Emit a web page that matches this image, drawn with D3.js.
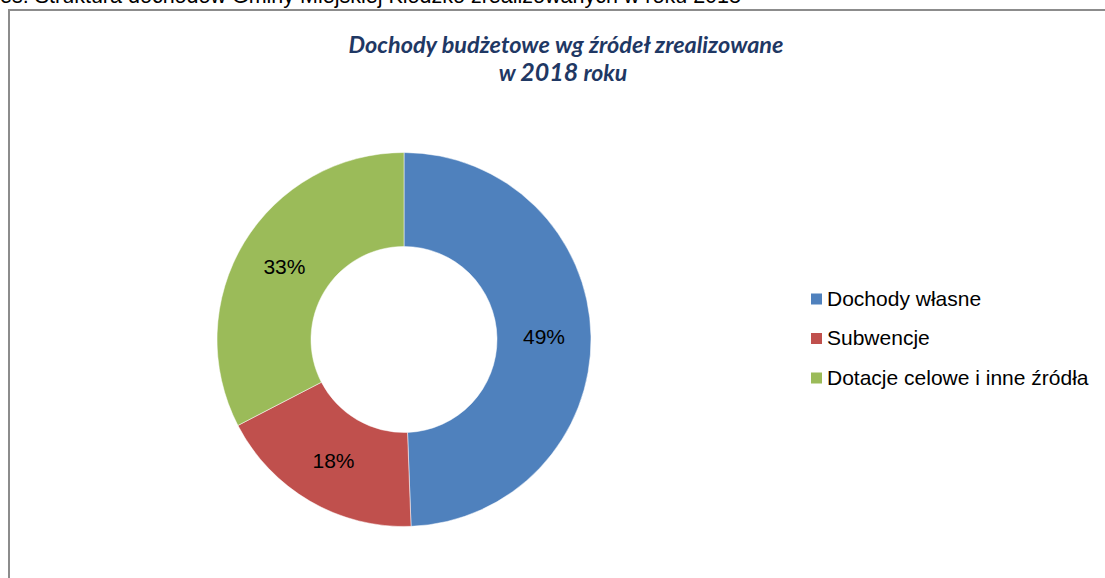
<!DOCTYPE html>
<html>
<head>
<meta charset="utf-8">
<script src="https://cdn.jsdelivr.net/npm/d3@7"></script>
<style>
  body { margin: 0; background: #fff; }
  svg { display: block; }
</style>
</head>
<body>
<svg width="1105" height="578"></svg>
<script>
// data
var categories = ["Dochody własne", "Subwencje", "Dotacje celowe i inne źródła"];
var values = [49.4, 18.0, 32.6];
var colors = ["#4f81bd", "#c0504d", "#9bbb59"];
var caption = "Wykres: Struktura dochodów Gminy Miejskiej Kłodzko zrealizowanych w roku 2018";
var titleLine1 = "Dochody budżetowe wg źródeł zrealizowane";

var svg = d3.select("svg"),
    width = +svg.attr("width"),
    height = +svg.attr("height");

// caption of the document, cut by the top edge like in the scan
svg.append("text")
    .attr("x", 741)
    .attr("y", 3)
    .attr("text-anchor", "end")
    .attr("font-family", "Liberation Sans, Arial, sans-serif")
    .attr("font-size", 21.5)
    .attr("fill", "#000")
    .text(caption);

// chart frame
svg.append("path")
    .attr("d", "M9," + (height + 2) + "V10H" + (width + 2))
    .attr("fill", "none")
    .attr("stroke", "#8c8c8c")
    .attr("stroke-width", 2);

// title
var title = svg.append("g")
    .attr("font-family", "Lato, 'Open Sans', sans-serif")
    .attr("font-weight", "bold")
    .attr("font-style", "italic")
    .attr("fill", "#1f3864")
    .attr("text-anchor", "middle");

var t1 = title.append("text")
    .attr("x", 566)
    .attr("y", 53)
    .attr("font-size", 21)
    .text(titleLine1);
// fit line width to the reference
var w1 = t1.node().getComputedTextLength();
t1.attr("font-size", 21 * 435 / w1);

var t2 = title.append("text")
    .attr("x", 563)
    .attr("y", 81);
t2.append("tspan").attr("font-size", 23).text("w ");
t2.append("tspan").attr("font-size", 25).text("2018");
t2.append("tspan").attr("font-size", 23).text(" roku");

// donut
var cx = 404, cy = 339.5;
var outerR = 187, innerR = 93;

var pie = d3.pie().sort(null).value(function(d) { return d; });
var arcs = pie(values);
var total = d3.sum(values);

var arc = d3.arc().innerRadius(innerR).outerRadius(outerR);
var labelArc = d3.arc().innerRadius((innerR + outerR) / 2).outerRadius((innerR + outerR) / 2);

var g = svg.append("g").attr("transform", "translate(" + cx + "," + cy + ")");

g.selectAll("path")
    .data(arcs)
    .enter().append("path")
    .attr("d", arc)
    .attr("fill", function(d, i) { return colors[i]; })
    .attr("stroke", "#fff")
    .attr("stroke-width", 0.5);

g.selectAll("text")
    .data(arcs)
    .enter().append("text")
    .attr("transform", function(d) { return "translate(" + labelArc.centroid(d) + ")"; })
    .attr("dy", "0.36em")
    .attr("text-anchor", "middle")
    .attr("font-family", "Liberation Sans, Arial, sans-serif")
    .attr("font-size", 21)
    .attr("fill", "#000")
    .text(function(d) { return Math.round(d.value / total * 100) + "%"; });

// legend
var legend = svg.append("g")
    .selectAll("g")
    .data(categories)
    .enter().append("g")
    .attr("transform", function(d, i) { return "translate(811," + (299 + i * 39.5) + ")"; });

legend.append("rect")
    .attr("x", 0)
    .attr("y", -5.5)
    .attr("width", 11)
    .attr("height", 11)
    .attr("fill", function(d, i) { return colors[i]; });

legend.append("text")
    .attr("x", 16)
    .attr("y", 6.5)
    .attr("font-family", "Liberation Sans, Arial, sans-serif")
    .attr("font-size", 21)
    .attr("fill", "#000")
    .text(function(d) { return d; });
</script>
</body>
</html>
